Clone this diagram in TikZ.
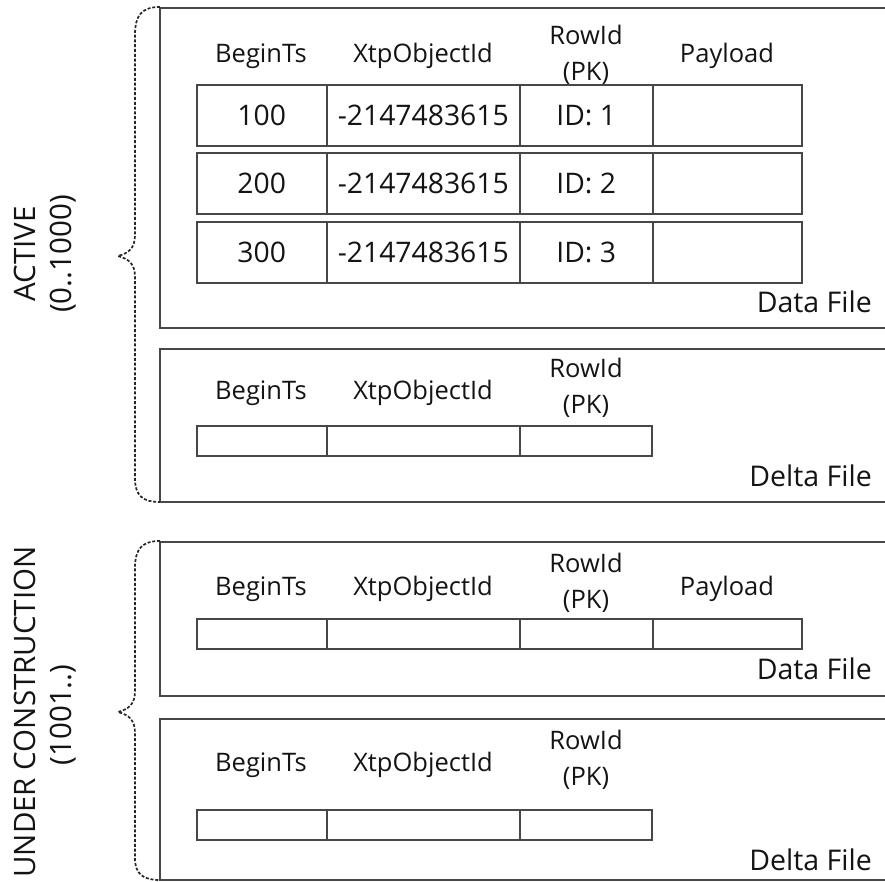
\documentclass[tikz,border=0pt]{standalone}
\usepackage{fontspec}
\setmainfont{Open Sans}
\begin{document}
\begin{tikzpicture}[x=1pt,y=-1pt,
  linecol/.style={draw=black!72},
  outerbox/.style={linecol, line width=1.5pt},
  cell/.style={linecol, line width=1.5pt, anchor=north west, inner sep=0pt, font=\fontsize{28.3}{30}\selectfont, text=black!92},
  hdr/.style={font=\fontsize{25.5}{36}\selectfont, text=black!92, inner sep=0pt, align=center},
  flabel/.style={font=\fontsize{28.5}{30}\selectfont, text=black!92, inner sep=0pt, anchor=east},
  side/.style={font=\fontsize{29.5}{30}\selectfont, text=black!92, inner sep=0pt, rotate=90},
  brace/.style={draw=black!85, line width=1.7pt, dash pattern=on 3pt off 1.8pt}
]
\useasboundingbox (0,0) rectangle (885,881);
\fill[white] (0,0) rectangle (885,881);

% ---------- outer boxes ----------
\draw[outerbox] (895,8) -- (160,8) -- (160,328) -- (895,328);
\draw[outerbox] (895,349) -- (160,349) -- (160,502) -- (895,502);
\draw[outerbox] (895,542) -- (160,542) -- (160,696) -- (895,696);
\draw[outerbox] (895,719) -- (160,719) -- (160,880) -- (895,880);

% ---------- ACTIVE data file ----------
\node[hdr] (h1a) at (261,56) {BeginTs};
\node[hdr] (h1b) at (423,56) {XtpObjectId};
\node[hdr] (h1c) at (586,55) {RowId\\(PK)};
\node[hdr] (h1d) at (727,56) {Payload};

\node[cell, minimum width=130pt, minimum height=61pt] (a1a) at (196,84) {100};
\node[cell, minimum width=193pt, minimum height=61pt] (a1b) at (326,84) {-2147483615};
\node[cell, minimum width=133pt, minimum height=61pt] (a1c) at (519,84) {ID: 1};
\node[cell, minimum width=149pt, minimum height=61pt] (a1d) at (652,84) {};

\node[cell, minimum width=130pt, minimum height=61pt] (a2a) at (196,152) {200};
\node[cell, minimum width=193pt, minimum height=61pt] (a2b) at (326,152) {-2147483615};
\node[cell, minimum width=133pt, minimum height=61pt] (a2c) at (519,152) {ID: 2};
\node[cell, minimum width=149pt, minimum height=61pt] (a2d) at (652,152) {};

\node[cell, minimum width=130pt, minimum height=61pt] (a3a) at (196,221) {300};
\node[cell, minimum width=193pt, minimum height=61pt] (a3b) at (326,221) {-2147483615};
\node[cell, minimum width=133pt, minimum height=61pt] (a3c) at (519,221) {ID: 3};
\node[cell, minimum width=149pt, minimum height=61pt] (a3d) at (652,221) {};

\node[flabel] (l1) at (872,302) {Data File};

% ---------- ACTIVE delta file ----------
\node[hdr] (h2a) at (261,393) {BeginTs};
\node[hdr] (h2b) at (423,393) {XtpObjectId};
\node[hdr] (h2c) at (586,388) {RowId\\(PK)};

\node[cell, minimum width=130pt, minimum height=30pt] (d1a) at (196,425) {};
\node[cell, minimum width=193pt, minimum height=30pt] (d1b) at (326,425) {};
\node[cell, minimum width=132pt, minimum height=30pt] (d1c) at (519,425) {};

\node[flabel] (l2) at (872,476) {Delta File};

% ---------- UNDER CONSTRUCTION data file ----------
\node[hdr] (h3a) at (261,589) {BeginTs};
\node[hdr] (h3b) at (423,589) {XtpObjectId};
\node[hdr] (h3c) at (586,583) {RowId\\(PK)};
\node[hdr] (h3d) at (727,589) {Payload};

\node[cell, minimum width=130pt, minimum height=30pt] (u1a) at (196,618) {};
\node[cell, minimum width=193pt, minimum height=30pt] (u1b) at (326,618) {};
\node[cell, minimum width=133pt, minimum height=30pt] (u1c) at (519,618) {};
\node[cell, minimum width=149pt, minimum height=30pt] (u1d) at (652,618) {};

\node[flabel] (l3) at (872,669) {Data File};

% ---------- UNDER CONSTRUCTION delta file ----------
\node[hdr] (h4a) at (261,765) {BeginTs};
\node[hdr] (h4b) at (423,765) {XtpObjectId};
\node[hdr] (h4c) at (586,760) {RowId\\(PK)};

\node[cell, minimum width=130pt, minimum height=30pt] (v1a) at (196,809) {};
\node[cell, minimum width=193pt, minimum height=30pt] (v1b) at (326,809) {};
\node[cell, minimum width=132pt, minimum height=30pt] (v1c) at (519,809) {};

\node[flabel] (l4) at (872,860) {Delta File};

% ---------- braces ----------
\draw[brace] (160,7) .. controls (142,7) and (135,15) .. (135,35)
  -- (135,235) .. controls (135,248) and (129,253) .. (118,256)
  .. controls (129,259) and (135,264) .. (135,277)
  -- (135,478) .. controls (135,496) and (143,502) .. (160,502);
\draw[brace] (160,541) .. controls (142,541) and (135,549) .. (135,568)
  -- (135,691) .. controls (135,704) and (129,709) .. (118,712)
  .. controls (129,715) and (135,720) .. (135,733)
  -- (135,858) .. controls (135,874) and (143,880) .. (160,880);

% ---------- side labels ----------
\node[side] (s1) at (25,254) {ACTIVE};
\node[side] (s2) at (63,254) {(0..1000)};
\node[side] (s3) at (25,712) {UNDER CONSTRUCTION};
\node[side] (s4) at (63,715) {(1001..)};
\end{tikzpicture}
\end{document}
